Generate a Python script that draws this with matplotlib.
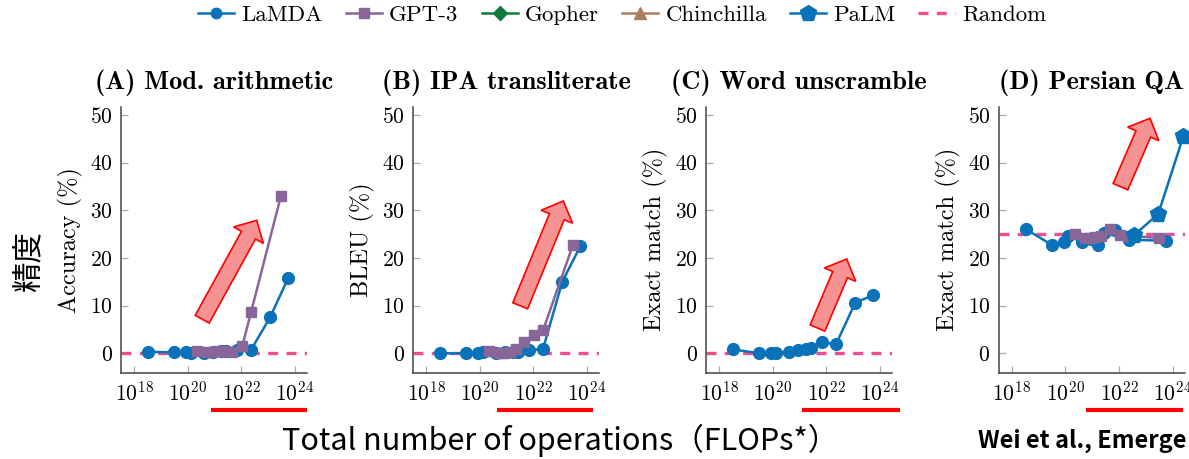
import matplotlib
matplotlib.use("Agg")
import matplotlib.pyplot as plt
from matplotlib.lines import Line2D
from matplotlib.patches import FancyArrow
from matplotlib.ticker import NullLocator

# Figure size in pixels (dpi 100)
W, H = 1189, 459

# Data (x = training FLOPs, y = score in %)
lamda_flops = [3.4e18, 3.2e19, 8.9e19, 1.3e20, 4.2e20, 9.1e20, 1.7e21, 2.8e21,
               6.8e21, 2.3e22, 1.2e23, 5.6e23]
lamda_arith = [0.3, 0.2, 0.2, 0.0, 0.1, 0.3, 0.4, 0.5, 0.7, 0.7, 7.6, 15.8]
lamda_ipa = [0.0, 0.0, 0.1, 0.2, 0.0, 0.2, 0.3, 0.2, 0.6, 0.9, 15.0, 22.4]
lamda_unscramble = [0.8, 0.0, 0.0, 0.0, 0.3, 0.7, 0.9, 1.2, 2.3, 1.9, 10.6, 12.2]

lamda_flops_persian = [3.4e18, 3.2e19, 8.9e19, 1.3e20, 4.2e20, 9.1e20, 1.7e21,
                       2.8e21, 6.8e21, 2.3e22, 5.6e23]
lamda_persian = [26.0, 22.7, 23.4, 24.6, 23.4, 24.0, 22.8, 25.3, 25.8, 23.8, 23.6]

gpt3_flops = [2.2e20, 5.4e20, 8.3e20, 1.3e21, 2.2e21, 4.6e21, 1.1e22, 2.3e22, 3.0e23]
gpt3_arith = [0.5, 0.3, 0.3, 0.4, 0.4, 0.3, 1.6, 8.6, 33.0]
gpt3_ipa = [0.5, 0.0, 0.1, 0.2, 0.9, 2.4, 3.8, 4.8, 22.7]
gpt3_persian = [25.0, 24.2, 24.2, 24.3, 24.5, 26.0, 24.7, 24.6, 24.2]

palm_flops = [3.7e22, 2.9e23, 2.5e24]
palm_persian = [24.8, 29.2, 45.5]

random_arith = 0
random_ipa = 0
random_unscramble = 0
random_persian = 25

titles = ["(A) Mod. arithmetic", "(B) IPA transliterate",
          "(C) Word unscramble", "(D) Persian QA"]
ylabels = ["Accuracy (%)", "BLEU (%)", "Exact match (%)", "Exact match (%)"]
model_names = ["LaMDA", "GPT-3", "Gopher", "Chinchilla", "PaLM", "Random"]

# Styles
C_LAMDA = "#0a72b8"
C_GPT3 = "#89669a"
C_GOPHER = "#107a3c"
C_CHIN = "#a97f5e"
C_PALM = "#0a72b8"
C_RANDOM = "#ef4f8f"

plt.rcParams["font.family"] = "cmr10"
plt.rcParams["mathtext.fontset"] = "cm"
plt.rcParams["axes.formatter.use_mathtext"] = True
plt.rcParams["axes.unicode_minus"] = False

fig = plt.figure(figsize=(W / 100, H / 100), dpi=100)

lefts = [121, 413, 706, 998.7]
ax_w, ax_top, ax_bottom = 186.3, 106.7, 372.7

lamda_style = dict(color=C_LAMDA, marker="o", markersize=8.5, lw=1.8, clip_on=False, zorder=3)
gpt3_style = dict(color=C_GPT3, marker="s", markersize=7.5, lw=1.8, clip_on=False, zorder=3)
palm_style = dict(color=C_PALM, marker="p", markersize=12, lw=1.8, clip_on=False, zorder=4)
random_style = dict(color=C_RANDOM, lw=2.4, ls=(0, (3, 2.5)), zorder=2)

axes = []
for left in lefts:
    ax = fig.add_axes([left / W, 1 - ax_bottom / H, ax_w / W, (ax_bottom - ax_top) / H])
    axes.append(ax)

axA, axB, axC, axD = axes

axA.axhline(random_arith, **random_style)
axA.plot(lamda_flops, lamda_arith, **lamda_style)
axA.plot(gpt3_flops, gpt3_arith, **gpt3_style)

axB.axhline(random_ipa, **random_style)
axB.plot(lamda_flops, lamda_ipa, **lamda_style)
axB.plot(gpt3_flops, gpt3_ipa, **gpt3_style)

axC.axhline(random_unscramble, **random_style)
axC.plot(lamda_flops, lamda_unscramble, **lamda_style)

axD.axhline(random_persian, **random_style)
axD.plot(lamda_flops_persian, lamda_persian, **lamda_style)
axD.plot(gpt3_flops, gpt3_persian, **gpt3_style)
axD.plot(palm_flops, palm_persian, **palm_style)

for ax, title, ylabel in zip(axes, titles, ylabels):
    ax.set_xscale("log")
    ax.set_xlim(10 ** 17.515, 10 ** 24.46)
    ax.set_ylim(-4.07, 51.7)
    ax.set_xticks([1e18, 1e20, 1e22, 1e24])
    ax.xaxis.set_minor_locator(NullLocator())
    ax.set_yticks([0, 10, 20, 30, 40, 50])
    for side in ["top", "right"]:
        ax.spines[side].set_visible(False)
    for side in ["left", "bottom"]:
        ax.spines[side].set_color("#444444")
        ax.spines[side].set_linewidth(1.1)
    ax.tick_params(direction="in", length=5, width=0.9, color="#aaaaaa",
                   labelsize=15.5, pad=6)
    ax.set_title(title, fontsize=19, fontfamily="cmb10", pad=13)
    ax.set_ylabel(ylabel, fontsize=17.5, labelpad=5)

# Legend
handles = [
    Line2D([], [], color=C_LAMDA, marker="o", markersize=7.5, lw=1.8),
    Line2D([], [], color=C_GPT3, marker="s", markersize=7.5, lw=1.8),
    Line2D([], [], color=C_GOPHER, marker="D", markersize=7, lw=1.8),
    Line2D([], [], color=C_CHIN, marker="^", markersize=8.5, lw=1.8),
    Line2D([], [], color=C_PALM, marker="p", markersize=12, lw=1.8),
    Line2D([], [], color=C_RANDOM, lw=2.4, ls=(0, (3, 2.5))),
]
fig.legend(handles, model_names, loc="upper center", bbox_to_anchor=(622 / W, 1.015),
           ncol=6, frameon=False, fontsize=16.5, handlelength=1.6,
           handletextpad=0.3, columnspacing=1.0, borderaxespad=0.1)

# Overlay in pixel coordinates for annotations
ov = fig.add_axes([0, 0, 1, 1])
ov.set_xlim(0, W)
ov.set_ylim(H, 0)
ov.axis("off")

# Red arrows (tail centre -> tip)
arrows = [((202.2, 319.2), (256.7, 220.3)),
          ((520.2, 305.8), (563.3, 201.0)),
          ((817.5, 328.0), (846.7, 259.0)),
          ((1120.5, 186.7), (1150.0, 118.3))]
for (x0, y0), (x1, y1) in arrows:
    ov.add_patch(FancyArrow(x0, y0, x1 - x0, y1 - y0, width=16, head_width=34,
                            head_length=17, length_includes_head=True,
                            facecolor="#f79292", edgecolor="red", lw=1.2))

# Red underlines under the large-compute region
for x0, x1 in [(211, 307), (497, 593), (802, 900), (1086, 1183)]:
    ov.plot([x0, x1], [410, 410], color="red", lw=3, solid_capstyle="butt")

ov.text(29, 262, "精度", rotation=90, fontsize=22, family=["Noto Sans CJK JP"],
        ha="center", va="center")
ov.text(560, 440, "Total number of operations（FLOPs*）", fontsize=22,
        family=["Noto Sans CJK JP", "DejaVu Sans"], ha="center", va="center")
ov.text(978, 441, "Wei et al., Emerge", fontsize=17, fontweight="bold",
        family=["Noto Sans CJK JP", "DejaVu Sans"], ha="left", va="center")

fig.savefig("out.png", dpi=100)
